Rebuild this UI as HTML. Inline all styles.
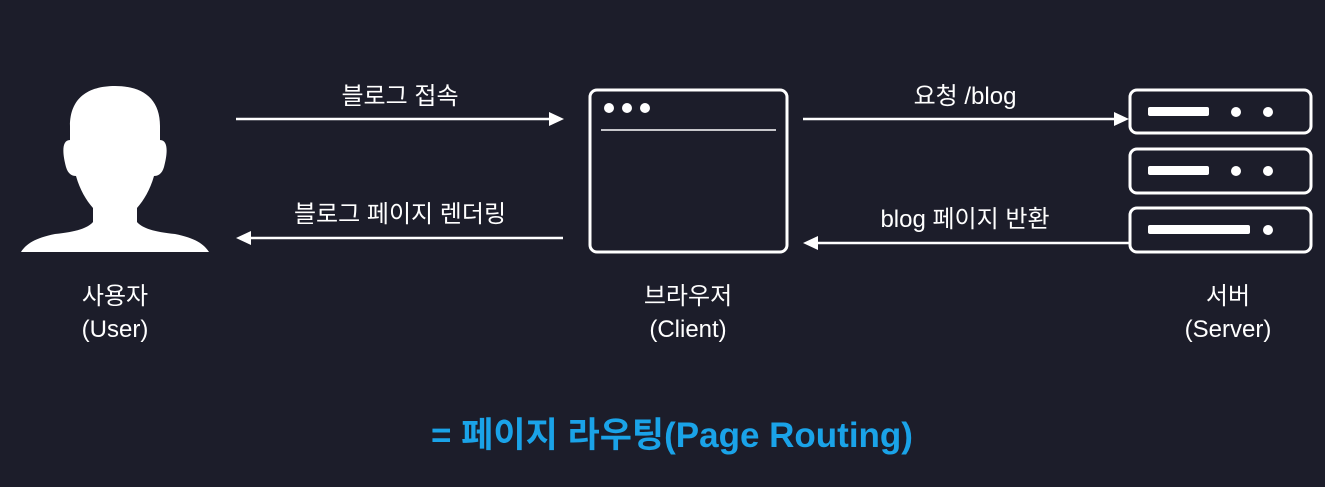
<!DOCTYPE html>
<html><head><meta charset="utf-8"><style>
html,body{margin:0;padding:0;background:#1c1d2a;}
svg{display:block}
text{font-family:"Liberation Sans","Noto Sans CJK KR",sans-serif;fill:#fff;text-anchor:middle}
</style></head><body>
<svg width="1325" height="487" viewBox="0 0 1325 487">
<rect width="1325" height="487" fill="#1c1d2a"/>
<!-- person -->
<path fill="#fff" d="M115 86 C88 86 70 98 70 126 L70 140 C62 140 62 152 66 167 C68 174 72 176 76 176 C80 190 86 200 93 208 L93 222 C88 228 76 232 55 234 C35 238 26 244 21 252 L209 252 C204 244 195 238 175 234 C154 232 142 228 137 222 L137 208 C144 200 150 190 154 176 C158 176 162 174 164 167 C168 152 168 140 160 140 L160 126 C160 98 142 86 115 86 Z"/>
<!-- browser -->
<rect x="590" y="90" width="197" height="162" rx="7" fill="none" stroke="#fff" stroke-width="3"/>
<circle cx="609" cy="108" r="5" fill="#fff"/><circle cx="627" cy="108" r="5" fill="#fff"/><circle cx="645" cy="108" r="5" fill="#fff"/>
<line x1="601" y1="130" x2="776" y2="130" stroke="#fff" stroke-width="1.5"/>
<!-- server -->
<g fill="none" stroke="#fff" stroke-width="3">
<rect x="1130" y="90" width="181" height="43" rx="7"/>
<rect x="1130" y="149" width="181" height="44" rx="7"/>
<rect x="1130" y="208" width="181" height="44" rx="7"/>
</g>
<g fill="#fff">
<rect x="1148" y="107" width="61" height="9" rx="2"/><circle cx="1236" cy="112" r="5"/><circle cx="1268" cy="112" r="5"/>
<rect x="1148" y="166" width="61" height="9" rx="2"/><circle cx="1236" cy="171" r="5"/><circle cx="1268" cy="171" r="5"/>
<rect x="1148" y="225" width="102" height="9" rx="2"/><circle cx="1268" cy="230" r="5"/>
</g>
<!-- arrows -->
<g stroke="#fff" stroke-width="2.5">
<line x1="236" y1="119" x2="552" y2="119"/>
<line x1="248" y1="238" x2="563" y2="238"/>
<line x1="803" y1="119" x2="1117" y2="119"/>
<line x1="815" y1="243" x2="1131" y2="243"/>
</g>
<g fill="#fff">
<polygon points="564,119 549,112 549,126"/>
<polygon points="236,238 251,231 251,245"/>
<polygon points="1129,119 1114,112 1114,126"/>
<polygon points="803,243 818,236 818,250"/>
</g>
<!-- labels -->
<text x="400" y="104" font-size="24">블로그 접속</text>
<text x="400" y="222" font-size="24">블로그 페이지 렌더링</text>
<text x="965" y="104" font-size="24">요청 /blog</text>
<text x="965" y="227" font-size="24">blog 페이지 반환</text>
<text x="115" y="304" font-size="24">사용자</text>
<text x="115" y="337" font-size="24">(User)</text>
<text x="688" y="304" font-size="24">브라우저</text>
<text x="688" y="337" font-size="24">(Client)</text>
<text x="1228" y="304" font-size="24">서버</text>
<text x="1228" y="337" font-size="24">(Server)</text>
<text x="672" y="447" font-size="35" font-weight="bold" style="fill:#1aa3e8">= 페이지 라우팅(Page Routing)</text>
</svg>
</body></html>
